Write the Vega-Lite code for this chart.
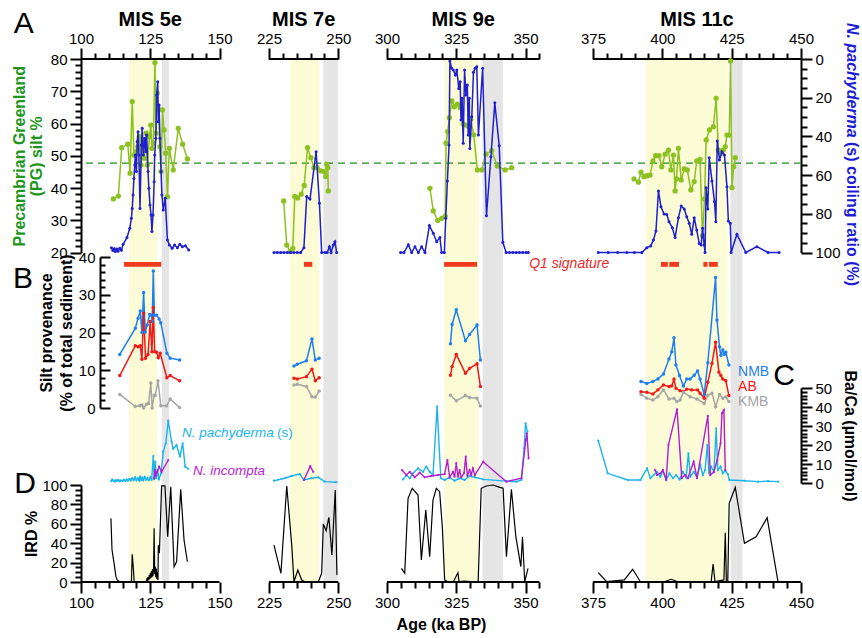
{
"$schema":"https://vega.github.io/schema/vega-lite/v6.json",
"width":720,"height":523,
"autosize":{"type":"none"},
"padding":{"left":81,"top":59,"right":61,"bottom":56},
"background":"white",
"config":{"view":{"stroke":null},"font":"Liberation Sans","axis":{"labelFont":"Liberation Sans","labelFontSize":15,"labelColor":"black","tickColor":"black","domainColor":"black","tickWidth":2,"domainWidth":2,"titleFont":"Liberation Sans","titleFontSize":16,"titleFontWeight":"bold","titleColor":"black","grid":false,"labelFlush":false,"labelOverlap":false,"labelBound":false,"labelPadding":3}},
"datasets":{
"yellow":[{"a0":117.3,"a1":127.4},{"a0":232.6,"a1":243.1},{"a0":320.7,"a1":333.0},{"a0":394.0,"a1":423.6}],
"hatch":[{"a0":129.2,"a1":131.8},{"a0":244.6,"a1":249.8},{"a0":334.5,"a1":341.8},{"a0":424.6,"a1":428.9}],
"cols":[{"a0":100,"a1":150},{"a0":225,"a1":250},{"a0":300,"a1":355},{"a0":375,"a1":450}],
"q1":[{"a0":115.5,"a1":129},{"a0":237.6,"a1":240.6},{"a0":320.6,"a1":332.5},{"a0":399.5,"a1":402.0},{"a0":402.5,"a1":406.0},{"a0":414.8,"a1":416.3},{"a0":416.8,"a1":420.0}],
"green":[
{"c":1,"a":111.7,"v":36.6},{"c":1,"a":113.5,"v":37.5},{"c":1,"a":114.7,"v":52.5},{"c":1,"a":116.9,"v":53.6},{"c":1,"a":117.7,"v":44.6},{"c":1,"a":118.5,"v":66.8},{"c":1,"a":119.1,"v":50.2},{"c":1,"a":119.9,"v":51.3},{"c":1,"a":120.5,"v":52.8},{"c":1,"a":121.1,"v":55.9},{"c":1,"a":121.7,"v":47.1},{"c":1,"a":122.3,"v":54.9},{"c":1,"a":122.9,"v":49.2},{"c":1,"a":123.5,"v":57.0},{"c":1,"a":123.9,"v":47.1},{"c":1,"a":124.7,"v":55.9},{"c":1,"a":125.2,"v":59.5},{"c":1,"a":125.6,"v":52.3},{"c":1,"a":126.1,"v":53.9},{"c":1,"a":126.7,"v":78.9},{"c":1,"a":127.1,"v":57.0},{"c":1,"a":127.5,"v":69.4},{"c":1,"a":127.9,"v":64.7},{"c":1,"a":128.5,"v":52.8},{"c":1,"a":128.9,"v":45.1},{"c":1,"a":129.4,"v":64.2},{"c":1,"a":130.0,"v":58.0},{"c":1,"a":130.6,"v":50.8},{"c":1,"a":131.2,"v":37.3},{"c":1,"a":131.9,"v":52.3},{"c":1,"a":133.3,"v":45.6},{"c":1,"a":135.1,"v":58.5},{"c":1,"a":136.7,"v":53.6},{"c":1,"a":138.4,"v":49.0},
{"c":2,"a":230.3,"v":36.0},{"c":2,"a":231.4,"v":22.3},{"c":2,"a":232.6,"v":20.3},{"c":2,"a":233.6,"v":21.3},{"c":2,"a":234.3,"v":37.4},{"c":2,"a":235.3,"v":36.9},{"c":2,"a":236.6,"v":38.1},{"c":2,"a":237.7,"v":40.8},{"c":2,"a":238.9,"v":52.5},{"c":2,"a":240.1,"v":49.4},{"c":2,"a":241.2,"v":46.3},{"c":2,"a":242.4,"v":46.3},{"c":2,"a":243.7,"v":45.3},{"c":2,"a":244.9,"v":45.1},{"c":2,"a":245.5,"v":43.6},{"c":2,"a":245.8,"v":47.4},{"c":2,"a":246.2,"v":46.3},{"c":2,"a":246.4,"v":39.1},
{"c":3,"a":315.5,"v":39.9},{"c":3,"a":316.7,"v":32.9},{"c":3,"a":318.3,"v":29.9},{"c":3,"a":319.7,"v":30.6},{"c":3,"a":321.0,"v":31.3},{"c":3,"a":321.3,"v":53.9},{"c":3,"a":321.9,"v":57.5},{"c":3,"a":322.5,"v":61.8},{"c":3,"a":323.4,"v":67.0},{"c":3,"a":324.3,"v":65.2},{"c":3,"a":325.4,"v":66.0},{"c":3,"a":326.4,"v":64.9},{"c":3,"a":327.5,"v":59.8},{"c":3,"a":328.5,"v":59.5},{"c":3,"a":329.5,"v":59.0},{"c":3,"a":330.2,"v":61.3},{"c":3,"a":331.3,"v":56.5},{"c":3,"a":332.6,"v":45.6},{"c":3,"a":334.2,"v":45.6},{"c":3,"a":335.7,"v":50.5},{"c":3,"a":337.8,"v":51.6},{"c":3,"a":339.8,"v":46.8},{"c":3,"a":342.6,"v":45.6},{"c":3,"a":345.0,"v":46.3},
{"c":4,"a":389.8,"v":42.8},{"c":4,"a":391.4,"v":41.8},{"c":4,"a":392.3,"v":44.9},{"c":4,"a":393.4,"v":43.5},{"c":4,"a":394.5,"v":43.8},{"c":4,"a":395.6,"v":44.0},{"c":4,"a":396.6,"v":48.4},{"c":4,"a":397.6,"v":50.0},{"c":4,"a":398.8,"v":50.0},{"c":4,"a":399.8,"v":46.6},{"c":4,"a":401.0,"v":50.5},{"c":4,"a":402.2,"v":51.7},{"c":4,"a":403.1,"v":45.6},{"c":4,"a":404.0,"v":50.2},{"c":4,"a":404.6,"v":39.1},{"c":4,"a":405.1,"v":42.8},{"c":4,"a":405.8,"v":52.3},{"c":4,"a":406.8,"v":42.5},{"c":4,"a":407.9,"v":45.9},{"c":4,"a":409.0,"v":45.6},{"c":4,"a":410.3,"v":39.4},{"c":4,"a":411.5,"v":42.0},{"c":4,"a":412.4,"v":48.4},{"c":4,"a":413.6,"v":48.9},{"c":4,"a":414.5,"v":25.2},{"c":4,"a":415.2,"v":36.6},{"c":4,"a":415.8,"v":54.9},{"c":4,"a":417.0,"v":58.0},{"c":4,"a":418.4,"v":59.0},{"c":4,"a":419.4,"v":67.8},{"c":4,"a":420.2,"v":51.8},{"c":4,"a":421.2,"v":50.8},{"c":4,"a":422.0,"v":51.8},{"c":4,"a":422.7,"v":52.8},{"c":4,"a":423.3,"v":56.4},{"c":4,"a":424.1,"v":56.4},{"c":4,"a":424.6,"v":79.4},{"c":4,"a":425.1,"v":40.1},{"c":4,"a":425.7,"v":46.6},{"c":4,"a":426.3,"v":49.4}],
"blue":[
{"c":1,"a":111.0,"v":97.5},{"c":1,"a":111.5,"v":99.0},{"c":1,"a":112.0,"v":98.0},{"c":1,"a":112.4,"v":99.5},{"c":1,"a":112.9,"v":98.2},{"c":1,"a":113.4,"v":99.3},{"c":1,"a":114.0,"v":97.8},{"c":1,"a":114.6,"v":98.8},{"c":1,"a":115.2,"v":95.8},{"c":1,"a":116.6,"v":92.3},{"c":1,"a":117.6,"v":87.5},{"c":1,"a":118.2,"v":82.3},{"c":1,"a":118.5,"v":77.2},{"c":1,"a":118.8,"v":70.3},{"c":1,"a":119.1,"v":61.7},{"c":1,"a":119.4,"v":54.8},{"c":1,"a":119.6,"v":49.6},{"c":1,"a":120.0,"v":58.2},{"c":1,"a":120.3,"v":42.7},{"c":1,"a":120.6,"v":37.6},{"c":1,"a":120.9,"v":49.6},{"c":1,"a":121.3,"v":77.2},{"c":1,"a":121.8,"v":44.4},{"c":1,"a":122.1,"v":35.8},{"c":1,"a":122.5,"v":49.6},{"c":1,"a":123.0,"v":41.0},{"c":1,"a":123.4,"v":47.9},{"c":1,"a":123.7,"v":39.3},{"c":1,"a":124.2,"v":58.2},{"c":1,"a":124.5,"v":66.8},{"c":1,"a":124.9,"v":75.5},{"c":1,"a":125.3,"v":80.6},{"c":1,"a":125.6,"v":89.2},{"c":1,"a":126.0,"v":80.6},{"c":1,"a":126.4,"v":63.4},{"c":1,"a":126.6,"v":49.6},{"c":1,"a":127.0,"v":41.0},{"c":1,"a":127.3,"v":18.6},{"c":1,"a":127.7,"v":11.7},{"c":1,"a":127.9,"v":32.4},{"c":1,"a":128.2,"v":23.8},{"c":1,"a":128.5,"v":41.0},{"c":1,"a":128.9,"v":58.2},{"c":1,"a":129.2,"v":70.3},{"c":1,"a":129.7,"v":78.0},{"c":1,"a":130.4,"v":72.0},{"c":1,"a":131.2,"v":93.5},{"c":1,"a":131.9,"v":96.1},{"c":1,"a":132.9,"v":97.8},{"c":1,"a":133.8,"v":96.1},{"c":1,"a":134.8,"v":97.5},{"c":1,"a":135.7,"v":95.8},{"c":1,"a":136.6,"v":97.0},{"c":1,"a":137.7,"v":96.5},{"c":1,"a":138.9,"v":98.7},
{"c":2,"a":226.8,"v":100},{"c":2,"a":228.0,"v":100},{"c":2,"a":229.2,"v":100},{"c":2,"a":230.4,"v":100},{"c":2,"a":231.6,"v":100},{"c":2,"a":232.8,"v":100},{"c":2,"a":234.0,"v":100},{"c":2,"a":235.2,"v":100},{"c":2,"a":236.4,"v":100},{"c":2,"a":237.6,"v":97.5},{"c":2,"a":238.6,"v":71.1},{"c":2,"a":239.8,"v":72.4},{"c":2,"a":242.0,"v":47.9},{"c":2,"a":243.2,"v":74.6},{"c":2,"a":244.0,"v":100},{"c":2,"a":245.2,"v":100},{"c":2,"a":246.0,"v":100},{"c":2,"a":246.8,"v":97.0},{"c":2,"a":247.4,"v":100},{"c":2,"a":248.2,"v":96.1},{"c":2,"a":248.8,"v":94.4},{"c":2,"a":249.4,"v":100},
{"c":3,"a":304.9,"v":100},{"c":3,"a":306.1,"v":100},{"c":3,"a":307.7,"v":96},{"c":3,"a":308.9,"v":100},{"c":3,"a":310.1,"v":97},{"c":3,"a":311.3,"v":100},{"c":3,"a":312.5,"v":97},{"c":3,"a":313.7,"v":100},{"c":3,"a":315.3,"v":86.1},{"c":3,"a":316.7,"v":90.1},{"c":3,"a":317.9,"v":94.4},{"c":3,"a":319.1,"v":92.3},{"c":3,"a":319.7,"v":100},{"c":3,"a":320.7,"v":100},{"c":3,"a":321.2,"v":82.3},{"c":3,"a":321.8,"v":63.0},{"c":3,"a":322.4,"v":44.4},{"c":3,"a":322.7,"v":1.0},{"c":3,"a":323.3,"v":4.8},{"c":3,"a":323.9,"v":5.7},{"c":3,"a":324.7,"v":8.3},{"c":3,"a":325.2,"v":5.7},{"c":3,"a":325.9,"v":15.2},{"c":3,"a":326.4,"v":11.7},{"c":3,"a":326.7,"v":31.5},{"c":3,"a":327.1,"v":20.3},{"c":3,"a":327.5,"v":43.6},{"c":3,"a":328.0,"v":5.7},{"c":3,"a":328.5,"v":18.6},{"c":3,"a":329.0,"v":13.4},{"c":3,"a":329.3,"v":39.3},{"c":3,"a":329.7,"v":20.3},{"c":3,"a":329.9,"v":46.2},{"c":3,"a":330.6,"v":29.8},{"c":3,"a":331.2,"v":6.9},{"c":3,"a":331.8,"v":4.8},{"c":3,"a":332.4,"v":4.0},{"c":3,"a":333.0,"v":39.3},{"c":3,"a":334.5,"v":4.8},{"c":3,"a":335.9,"v":81.0},{"c":3,"a":337.5,"v":50.5},{"c":3,"a":338.9,"v":22.6},{"c":3,"a":340.5,"v":44.8},{"c":3,"a":341.8,"v":94.7},{"c":3,"a":343.0,"v":100},{"c":3,"a":344.2,"v":100},{"c":3,"a":345.4,"v":100},{"c":3,"a":346.6,"v":100},{"c":3,"a":347.8,"v":100},{"c":3,"a":349.0,"v":100},{"c":3,"a":350.2,"v":100},{"c":3,"a":351.0,"v":100},
{"c":4,"a":376.9,"v":100},{"c":4,"a":380.5,"v":100},{"c":4,"a":383.9,"v":100},{"c":4,"a":387.2,"v":100},{"c":4,"a":389.9,"v":100},{"c":4,"a":392.6,"v":100},{"c":4,"a":394.4,"v":97.5},{"c":4,"a":395.8,"v":96.6},{"c":4,"a":396.8,"v":93.5},{"c":4,"a":397.7,"v":88.9},{"c":4,"a":398.6,"v":68.2},{"c":4,"a":399.5,"v":76.3},{"c":4,"a":400.6,"v":80.1},{"c":4,"a":401.6,"v":80.3},{"c":4,"a":402.4,"v":84.1},{"c":4,"a":403.6,"v":87.2},{"c":4,"a":404.6,"v":92.3},{"c":4,"a":405.8,"v":82.0},{"c":4,"a":406.8,"v":76.0},{"c":4,"a":407.9,"v":77.5},{"c":4,"a":408.8,"v":81.5},{"c":4,"a":409.7,"v":84.9},{"c":4,"a":410.6,"v":90.6},{"c":4,"a":411.5,"v":82.0},{"c":4,"a":412.4,"v":88.4},{"c":4,"a":413.3,"v":95.3},{"c":4,"a":414.0,"v":96.1},{"c":4,"a":414.5,"v":87.5},{"c":4,"a":415.1,"v":96.1},{"c":4,"a":415.4,"v":100},{"c":4,"a":415.8,"v":66.5},{"c":4,"a":416.4,"v":77.5},{"c":4,"a":416.9,"v":51.0},{"c":4,"a":417.9,"v":63.0},{"c":4,"a":418.8,"v":73.7},{"c":4,"a":419.3,"v":84.1},{"c":4,"a":419.8,"v":42.4},{"c":4,"a":420.6,"v":52.2},{"c":4,"a":421.5,"v":47.9},{"c":4,"a":422.4,"v":49.6},{"c":4,"a":423.3,"v":66.0},{"c":4,"a":423.8,"v":83.7},{"c":4,"a":424.5,"v":84.9},{"c":4,"a":424.8,"v":100},{"c":4,"a":426.9,"v":90.6},{"c":4,"a":430.1,"v":100},{"c":4,"a":434.1,"v":97},{"c":4,"a":438.1,"v":100},{"c":4,"a":442.1,"v":100}],
"prov":[
{"c":1,"s":"NMB","a":114.0,"v":14.2},{"c":1,"s":"NMB","a":119.6,"v":21.1},{"c":1,"s":"NMB","a":120.6,"v":23.8},{"c":1,"s":"NMB","a":121.4,"v":25.7},{"c":1,"s":"NMB","a":122.0,"v":20.0},{"c":1,"s":"NMB","a":122.6,"v":30.6},{"c":1,"s":"NMB","a":123.2,"v":20.1},{"c":1,"s":"NMB","a":123.9,"v":22.0},{"c":1,"s":"NMB","a":124.8,"v":24.8},{"c":1,"s":"NMB","a":125.4,"v":24.6},{"c":1,"s":"NMB","a":125.7,"v":22.9},{"c":1,"s":"NMB","a":126.1,"v":36.3},{"c":1,"s":"NMB","a":126.5,"v":24.6},{"c":1,"s":"NMB","a":127.3,"v":24.6},{"c":1,"s":"NMB","a":128.2,"v":23.6},{"c":1,"s":"NMB","a":128.8,"v":22.6},{"c":1,"s":"NMB","a":131.0,"v":14.5},{"c":1,"s":"NMB","a":132.2,"v":13.2},{"c":1,"s":"NMB","a":135.6,"v":12.7},
{"c":1,"s":"AB","a":114.0,"v":8.6},{"c":1,"s":"AB","a":119.6,"v":16.5},{"c":1,"s":"AB","a":120.6,"v":16.2},{"c":1,"s":"AB","a":121.4,"v":16.5},{"c":1,"s":"AB","a":122.0,"v":12.9},{"c":1,"s":"AB","a":122.6,"v":25.1},{"c":1,"s":"AB","a":123.3,"v":13.2},{"c":1,"s":"AB","a":124.2,"v":14.2},{"c":1,"s":"AB","a":125.0,"v":22.9},{"c":1,"s":"AB","a":125.6,"v":14.9},{"c":1,"s":"AB","a":126.1,"v":26.6},{"c":1,"s":"AB","a":126.6,"v":14.9},{"c":1,"s":"AB","a":127.3,"v":14.8},{"c":1,"s":"AB","a":127.9,"v":13.3},{"c":1,"s":"AB","a":128.6,"v":14.5},{"c":1,"s":"AB","a":131.0,"v":8.0},{"c":1,"s":"AB","a":132.2,"v":8.6},{"c":1,"s":"AB","a":135.6,"v":7.2},
{"c":1,"s":"KMB","a":114.0,"v":3.6},{"c":1,"s":"KMB","a":119.6,"v":0.4},{"c":1,"s":"KMB","a":121.2,"v":0.6},{"c":1,"s":"KMB","a":122.0,"v":0.8},{"c":1,"s":"KMB","a":122.6,"v":0.0},{"c":1,"s":"KMB","a":123.6,"v":1.0},{"c":1,"s":"KMB","a":124.4,"v":1.2},{"c":1,"s":"KMB","a":125.2,"v":6.6},{"c":1,"s":"KMB","a":125.7,"v":0.0},{"c":1,"s":"KMB","a":126.4,"v":3.4},{"c":1,"s":"KMB","a":126.8,"v":3.3},{"c":1,"s":"KMB","a":127.8,"v":7.2},{"c":1,"s":"KMB","a":128.8,"v":0.6},{"c":1,"s":"KMB","a":130.9,"v":0.6},{"c":1,"s":"KMB","a":132.2,"v":2.4},{"c":1,"s":"KMB","a":135.6,"v":0.1},
{"c":2,"s":"NMB","a":234.0,"v":11.1},{"c":2,"s":"NMB","a":235.2,"v":11.6},{"c":2,"s":"NMB","a":238.5,"v":12.5},{"c":2,"s":"NMB","a":240.5,"v":18.3},{"c":2,"s":"NMB","a":241.7,"v":12.7},{"c":2,"s":"NMB","a":243.1,"v":13.2},
{"c":2,"s":"AB","a":234.0,"v":7.9},{"c":2,"s":"AB","a":235.2,"v":7.7},{"c":2,"s":"AB","a":238.5,"v":8.3},{"c":2,"s":"AB","a":240.5,"v":10.3},{"c":2,"s":"AB","a":241.7,"v":7.2},{"c":2,"s":"AB","a":243.1,"v":8.0},
{"c":2,"s":"KMB","a":234.0,"v":6.1},{"c":2,"s":"KMB","a":235.2,"v":6.3},{"c":2,"s":"KMB","a":238.5,"v":5.7},{"c":2,"s":"KMB","a":240.5,"v":3.0},{"c":2,"s":"KMB","a":241.7,"v":2.9},{"c":2,"s":"KMB","a":243.1,"v":4.5},
{"c":3,"s":"NMB","a":322.9,"v":17.0},{"c":3,"s":"NMB","a":323.5,"v":22.2},{"c":3,"s":"NMB","a":325.0,"v":26.0},{"c":3,"s":"NMB","a":328.3,"v":17.8},{"c":3,"s":"NMB","a":329.8,"v":19.5},{"c":3,"s":"NMB","a":332.5,"v":22.0},{"c":3,"s":"NMB","a":333.7,"v":12.7},
{"c":3,"s":"AB","a":322.9,"v":8.7},{"c":3,"s":"AB","a":323.5,"v":11.0},{"c":3,"s":"AB","a":325.0,"v":14.2},{"c":3,"s":"AB","a":328.3,"v":9.2},{"c":3,"s":"AB","a":329.8,"v":10.5},{"c":3,"s":"AB","a":332.5,"v":11.7},{"c":3,"s":"AB","a":333.7,"v":5.7},
{"c":3,"s":"KMB","a":322.9,"v":3.4},{"c":3,"s":"KMB","a":325.0,"v":1.9},{"c":3,"s":"KMB","a":328.3,"v":3.3},{"c":3,"s":"KMB","a":329.8,"v":2.8},{"c":3,"s":"KMB","a":332.5,"v":2.6},{"c":3,"s":"KMB","a":333.7,"v":0.5},
{"c":4,"s":"NMB","a":392.3,"v":7.0},{"c":4,"s":"NMB","a":394.4,"v":6.5},{"c":4,"s":"NMB","a":396.6,"v":7.0},{"c":4,"s":"NMB","a":398.4,"v":7.7},{"c":4,"s":"NMB","a":400.4,"v":9.0},{"c":4,"s":"NMB","a":402.4,"v":13.0},{"c":4,"s":"NMB","a":403.4,"v":14.9},{"c":4,"s":"NMB","a":404.2,"v":18.6},{"c":4,"s":"NMB","a":404.9,"v":11.4},{"c":4,"s":"NMB","a":406.2,"v":8.6},{"c":4,"s":"NMB","a":407.6,"v":5.8},{"c":4,"s":"NMB","a":408.8,"v":7.7},{"c":4,"s":"NMB","a":410.0,"v":7.7},{"c":4,"s":"NMB","a":411.5,"v":8.7},{"c":4,"s":"NMB","a":412.7,"v":9.8},{"c":4,"s":"NMB","a":413.6,"v":7.7},{"c":4,"s":"NMB","a":415.1,"v":3.6},{"c":4,"s":"NMB","a":416.4,"v":12.0},{"c":4,"s":"NMB","a":419.2,"v":34.6},{"c":4,"s":"NMB","a":419.7,"v":23.3},{"c":4,"s":"NMB","a":420.6,"v":16.2},{"c":4,"s":"NMB","a":421.1,"v":14.0},{"c":4,"s":"NMB","a":421.8,"v":15.4},{"c":4,"s":"NMB","a":422.3,"v":14.2},{"c":4,"s":"NMB","a":422.9,"v":14.8},{"c":4,"s":"NMB","a":424.0,"v":11.4},
{"c":4,"s":"AB","a":392.3,"v":4.3},{"c":4,"s":"AB","a":394.4,"v":4.2},{"c":4,"s":"AB","a":396.6,"v":3.7},{"c":4,"s":"AB","a":398.4,"v":4.8},{"c":4,"s":"AB","a":400.4,"v":6.1},{"c":4,"s":"AB","a":402.4,"v":5.7},{"c":4,"s":"AB","a":403.4,"v":5.8},{"c":4,"s":"AB","a":404.2,"v":7.6},{"c":4,"s":"AB","a":404.9,"v":5.2},{"c":4,"s":"AB","a":406.4,"v":4.6},{"c":4,"s":"AB","a":407.6,"v":4.3},{"c":4,"s":"AB","a":408.8,"v":5.0},{"c":4,"s":"AB","a":410.6,"v":4.8},{"c":4,"s":"AB","a":412.7,"v":4.8},{"c":4,"s":"AB","a":413.6,"v":3.9},{"c":4,"s":"AB","a":415.1,"v":2.6},{"c":4,"s":"AB","a":416.4,"v":6.8},{"c":4,"s":"AB","a":417.9,"v":11.8},{"c":4,"s":"AB","a":419.2,"v":17.4},{"c":4,"s":"AB","a":420.4,"v":9.5},{"c":4,"s":"AB","a":421.1,"v":8.6},{"c":4,"s":"AB","a":421.8,"v":7.7},{"c":4,"s":"AB","a":422.9,"v":7.2},{"c":4,"s":"AB","a":424.0,"v":3.3},
{"c":4,"s":"KMB","a":392.3,"v":3.6},{"c":4,"s":"KMB","a":394.4,"v":2.6},{"c":4,"s":"KMB","a":396.6,"v":2.1},{"c":4,"s":"KMB","a":398.4,"v":3.0},{"c":4,"s":"KMB","a":400.4,"v":4.8},{"c":4,"s":"KMB","a":402.4,"v":2.4},{"c":4,"s":"KMB","a":404.2,"v":2.6},{"c":4,"s":"KMB","a":405.2,"v":1.7},{"c":4,"s":"KMB","a":406.4,"v":2.1},{"c":4,"s":"KMB","a":407.6,"v":4.2},{"c":4,"s":"KMB","a":410.0,"v":3.0},{"c":4,"s":"KMB","a":412.5,"v":2.4},{"c":4,"s":"KMB","a":415.1,"v":1.2},{"c":4,"s":"KMB","a":416.4,"v":3.4},{"c":4,"s":"KMB","a":417.9,"v":3.9},{"c":4,"s":"KMB","a":419.2,"v":0.3},{"c":4,"s":"KMB","a":420.6,"v":3.6},{"c":4,"s":"KMB","a":421.8,"v":2.6},{"c":4,"s":"KMB","a":422.9,"v":3.0},{"c":4,"s":"KMB","a":424.0,"v":1.7}],
"cyan":[
{"c":1,"a":110.9,"v":1.0},{"c":1,"a":111.3,"v":1.8},{"c":1,"a":111.7,"v":1.2},{"c":1,"a":112.1,"v":0.8},{"c":1,"a":112.6,"v":1.5},{"c":1,"a":113.0,"v":1.0},{"c":1,"a":113.5,"v":1.6},{"c":1,"a":114.0,"v":0.9},{"c":1,"a":114.5,"v":1.4},{"c":1,"a":115.0,"v":1.0},{"c":1,"a":115.5,"v":1.7},{"c":1,"a":116.0,"v":1.1},{"c":1,"a":116.5,"v":1.9},{"c":1,"a":117.0,"v":1.2},{"c":1,"a":117.5,"v":2.2},{"c":1,"a":118.0,"v":1.3},{"c":1,"a":118.5,"v":2.5},{"c":1,"a":119.0,"v":1.5},{"c":1,"a":119.5,"v":3.0},{"c":1,"a":120.0,"v":1.4},{"c":1,"a":120.5,"v":2.6},{"c":1,"a":121.0,"v":1.3},{"c":1,"a":121.3,"v":3.5},{"c":1,"a":121.7,"v":1.6},{"c":1,"a":122.1,"v":2.8},{"c":1,"a":122.5,"v":1.5},{"c":1,"a":123.0,"v":3.2},{"c":1,"a":123.5,"v":1.7},{"c":1,"a":124.0,"v":2.6},{"c":1,"a":124.5,"v":1.5},{"c":1,"a":125.0,"v":3.0},{"c":1,"a":125.5,"v":1.8},{"c":1,"a":126.1,"v":14.2},{"c":1,"a":126.4,"v":2.0},{"c":1,"a":126.8,"v":11.2},{"c":1,"a":127.2,"v":2.5},{"c":1,"a":127.7,"v":6.8},{"c":1,"a":128.1,"v":1.8},{"c":1,"a":128.9,"v":5.1},{"c":1,"a":129.7,"v":16.5},{"c":1,"a":130.6,"v":20.9},{"c":1,"a":131.5,"v":32.8},{"c":1,"a":132.7,"v":21.7},{"c":1,"a":133.3,"v":18.0},{"c":1,"a":134.5,"v":20.0},{"c":1,"a":135.7,"v":13.9},{"c":1,"a":136.7,"v":20.9},{"c":1,"a":137.6,"v":8.6},{"c":1,"a":138.7,"v":7.5},
{"c":2,"a":226.8,"v":1.2},{"c":2,"a":230.7,"v":2.5},{"c":2,"a":233.1,"v":3.7},{"c":2,"a":236.1,"v":4.7},{"c":2,"a":237.6,"v":1.6},{"c":2,"a":240.3,"v":2.5},{"c":2,"a":242.7,"v":3.0},{"c":2,"a":245.1,"v":0.7},{"c":2,"a":249.3,"v":0.4},
{"c":3,"a":305.8,"v":1.9},{"c":3,"a":307.0,"v":4.2},{"c":3,"a":308.2,"v":2.5},{"c":3,"a":309.4,"v":5.1},{"c":3,"a":311.2,"v":7.7},{"c":3,"a":313.0,"v":5.9},{"c":3,"a":314.2,"v":8.6},{"c":3,"a":315.4,"v":5.9},{"c":3,"a":316.6,"v":4.2},{"c":3,"a":318.1,"v":40.2},{"c":3,"a":319.4,"v":2.5},{"c":3,"a":320.8,"v":1.6},{"c":3,"a":322.6,"v":3.0},{"c":3,"a":324.4,"v":1.2},{"c":3,"a":326.2,"v":2.5},{"c":3,"a":328.0,"v":1.6},{"c":3,"a":329.8,"v":3.7},{"c":3,"a":331.7,"v":3.0},{"c":3,"a":334.7,"v":1.9},{"c":3,"a":343.1,"v":1.0},{"c":3,"a":346.7,"v":0.7},{"c":3,"a":348.5,"v":1.6},{"c":3,"a":349.5,"v":18.2},{"c":3,"a":350.0,"v":31.4},{"c":3,"a":350.7,"v":27.0},
{"c":4,"a":376.9,"v":22.3},{"c":4,"a":380.3,"v":5.1},{"c":4,"a":387.5,"v":1.6},{"c":4,"a":392.1,"v":1.6},{"c":4,"a":394.5,"v":7.7},{"c":4,"a":395.7,"v":2.5},{"c":4,"a":396.9,"v":4.2},{"c":4,"a":398.1,"v":5.9},{"c":4,"a":399.3,"v":3.3},{"c":4,"a":400.2,"v":6.5},{"c":4,"a":401.4,"v":1.6},{"c":4,"a":402.6,"v":5.1},{"c":4,"a":403.8,"v":2.5},{"c":4,"a":405.0,"v":4.2},{"c":4,"a":406.2,"v":1.9},{"c":4,"a":407.4,"v":5.9},{"c":4,"a":408.6,"v":3.0},{"c":4,"a":409.4,"v":15.6},{"c":4,"a":410.1,"v":3.3},{"c":4,"a":411.3,"v":5.9},{"c":4,"a":412.5,"v":3.0},{"c":4,"a":413.7,"v":9.5},{"c":4,"a":414.6,"v":4.2},{"c":4,"a":415.4,"v":6.8},{"c":4,"a":416.2,"v":20.0},{"c":4,"a":416.8,"v":5.1},{"c":4,"a":417.6,"v":8.6},{"c":4,"a":418.6,"v":5.9},{"c":4,"a":419.4,"v":28.8},{"c":4,"a":420.0,"v":6.8},{"c":4,"a":421.0,"v":8.6},{"c":4,"a":421.8,"v":5.1},{"c":4,"a":422.7,"v":6.5},{"c":4,"a":423.6,"v":4.7},{"c":4,"a":424.2,"v":1.6},{"c":4,"a":429.6,"v":1.2},{"c":4,"a":434.5,"v":0.7},{"c":4,"a":438.1,"v":1.0},{"c":4,"a":441.7,"v":0.7}],
"purple":[
{"c":1,"a":126.4,"v":2.5},{"c":1,"a":126.7,"v":6.8},{"c":1,"a":127.0,"v":4.0},{"c":1,"a":127.5,"v":5.9},{"c":1,"a":128.2,"v":8.6},{"c":1,"a":129.1,"v":5.9},{"c":1,"a":131.5,"v":12.1},
{"c":2,"a":237.6,"v":1.6},{"c":2,"a":239.9,"v":8.9},{"c":2,"a":240.9,"v":5.9},
{"c":3,"a":305.4,"v":6.8},{"c":3,"a":307.0,"v":4.2},{"c":3,"a":308.2,"v":5.9},{"c":3,"a":310.0,"v":3.0},{"c":3,"a":311.8,"v":5.4},{"c":3,"a":313.6,"v":3.0},{"c":3,"a":316.0,"v":3.7},{"c":3,"a":318.4,"v":4.2},{"c":3,"a":320.8,"v":4.7},{"c":3,"a":321.8,"v":12.1},{"c":3,"a":322.6,"v":3.0},{"c":3,"a":323.8,"v":5.9},{"c":3,"a":324.4,"v":3.3},{"c":3,"a":325.0,"v":10.4},{"c":3,"a":325.6,"v":3.3},{"c":3,"a":326.2,"v":6.8},{"c":3,"a":326.8,"v":3.0},{"c":3,"a":327.8,"v":5.1},{"c":3,"a":328.4,"v":13.9},{"c":3,"a":329.0,"v":3.7},{"c":3,"a":329.8,"v":6.8},{"c":3,"a":330.4,"v":4.2},{"c":3,"a":331.0,"v":7.7},{"c":3,"a":331.7,"v":4.2},{"c":3,"a":334.7,"v":11.2},{"c":3,"a":343.1,"v":0.7},{"c":3,"a":348.5,"v":2.5},{"c":3,"a":350.1,"v":22.6},{"c":3,"a":350.5,"v":26.1},{"c":3,"a":351.1,"v":13.0},
{"c":4,"a":397.4,"v":6.8},{"c":4,"a":398.1,"v":4.2},{"c":4,"a":399.3,"v":5.1},{"c":4,"a":400.2,"v":6.8},{"c":4,"a":401.4,"v":1.6},{"c":4,"a":402.2,"v":20.0},{"c":4,"a":405.3,"v":38.8},{"c":4,"a":407.0,"v":2.5},{"c":4,"a":408.2,"v":4.2},{"c":4,"a":409.2,"v":2.5},{"c":4,"a":411.3,"v":11.2},{"c":4,"a":412.5,"v":2.5},{"c":4,"a":416.4,"v":35.3},{"c":4,"a":417.3,"v":4.2},{"c":4,"a":418.6,"v":5.9},{"c":4,"a":419.8,"v":12.1},{"c":4,"a":421.0,"v":20.9},{"c":4,"a":421.5,"v":36.7},{"c":4,"a":422.2,"v":38.4},{"c":4,"a":422.7,"v":6.8}],
"ird":[
{"c":1,"a":110.8,"v":65.6},{"c":1,"a":111.2,"v":33.0},{"c":1,"a":112.0,"v":18.2},{"c":1,"a":112.6,"v":5.5},{"c":1,"a":113.1,"v":2.1},{"c":1,"a":113.9,"v":0.3},{"c":1,"a":115.0,"v":0.0},{"c":1,"a":117.0,"v":0.0},{"c":1,"a":118.2,"v":0.0},{"c":1,"a":118.5,"v":28.6},{"c":1,"a":118.9,"v":14.0},{"c":1,"a":119.2,"v":0.0},{"c":1,"a":121.0,"v":0.0},{"c":1,"a":123.0,"v":0.5},{"c":1,"a":123.5,"v":0.5},{"c":1,"a":123.8,"v":3},{"c":1,"a":124.0,"v":1},{"c":1,"a":124.2,"v":5},{"c":1,"a":124.4,"v":2},{"c":1,"a":124.6,"v":7},{"c":1,"a":124.8,"v":3},{"c":1,"a":125.0,"v":9},{"c":1,"a":125.2,"v":4},{"c":1,"a":125.4,"v":11},{"c":1,"a":125.6,"v":5},{"c":1,"a":125.8,"v":13},{"c":1,"a":126.0,"v":6},{"c":1,"a":126.2,"v":15},{"c":1,"a":126.4,"v":55.4},{"c":1,"a":126.6,"v":8},{"c":1,"a":126.8,"v":16},{"c":1,"a":127.0,"v":5},{"c":1,"a":127.2,"v":14},{"c":1,"a":127.4,"v":3},{"c":1,"a":127.6,"v":10},{"c":1,"a":127.8,"v":2},{"c":1,"a":127.9,"v":38},{"c":1,"a":128.3,"v":29.6},{"c":1,"a":129.1,"v":99},{"c":1,"a":130.3,"v":99},{"c":1,"a":131.3,"v":46.7},{"c":1,"a":132.4,"v":98.2},{"c":1,"a":133.6,"v":15.8},{"c":1,"a":134.5,"v":20.9},{"c":1,"a":136.0,"v":95.6},{"c":1,"a":137.2,"v":43.3},{"c":1,"a":138.4,"v":20.9},
{"c":2,"a":226.8,"v":38.1},{"c":2,"a":229.3,"v":9.0},{"c":2,"a":231.4,"v":99.0},{"c":2,"a":233.2,"v":38.0},{"c":2,"a":234.0,"v":0.3},{"c":2,"a":235.4,"v":12.4},{"c":2,"a":236.8,"v":2.0},{"c":2,"a":238.0,"v":0.3},{"c":2,"a":240.0,"v":0.3},{"c":2,"a":242.8,"v":0.3},{"c":2,"a":244.0,"v":9.0},{"c":2,"a":244.6,"v":59.8},{"c":2,"a":245.6,"v":52.9},{"c":2,"a":246.6,"v":66.7},{"c":2,"a":247.7,"v":27.8},{"c":2,"a":248.9,"v":94.8},{"c":2,"a":249.5,"v":7.2},
{"c":3,"a":305.2,"v":14.1},{"c":3,"a":306.4,"v":9.0},{"c":3,"a":307.6,"v":86.3},{"c":3,"a":309.1,"v":96.6},{"c":3,"a":311.2,"v":89.7},{"c":3,"a":312.4,"v":22.7},{"c":3,"a":314.0,"v":74.2},{"c":3,"a":315.4,"v":26.1},{"c":3,"a":316.6,"v":84.5},{"c":3,"a":317.8,"v":96.6},{"c":3,"a":319.0,"v":93.1},{"c":3,"a":320.0,"v":55.4},{"c":3,"a":320.8,"v":2.1},{"c":3,"a":322.0,"v":0.3},{"c":3,"a":324.0,"v":0.5},{"c":3,"a":325.6,"v":9.6},{"c":3,"a":326.0,"v":0.3},{"c":3,"a":328.0,"v":1.0},{"c":3,"a":330.0,"v":0.5},{"c":3,"a":332.9,"v":0.3},{"c":3,"a":334.0,"v":96.6},{"c":3,"a":335.8,"v":99.0},{"c":3,"a":338.3,"v":100},{"c":3,"a":340.7,"v":97.6},{"c":3,"a":341.9,"v":96.6},{"c":3,"a":343.1,"v":26.1},{"c":3,"a":344.9,"v":95.6},{"c":3,"a":346.5,"v":46.7},{"c":3,"a":348.3,"v":15.8},{"c":3,"a":348.9,"v":46.7},{"c":3,"a":349.7,"v":0.3},{"c":3,"a":350.9,"v":14.1},
{"c":4,"a":376.9,"v":9.6},{"c":4,"a":379.9,"v":0.3},{"c":4,"a":386.3,"v":2.1},{"c":4,"a":389.3,"v":13.1},{"c":4,"a":392.1,"v":0.3},{"c":4,"a":400.7,"v":0.3},{"c":4,"a":403.2,"v":2.8},{"c":4,"a":405.6,"v":0.3},{"c":4,"a":417.6,"v":0.3},{"c":4,"a":418.3,"v":18.6},{"c":4,"a":419.0,"v":0.3},{"c":4,"a":422.2,"v":2.1},{"c":4,"a":422.7,"v":50.8},{"c":4,"a":423.1,"v":0.3},{"c":4,"a":423.6,"v":0.3},{"c":4,"a":424.1,"v":81.1},{"c":4,"a":426.3,"v":97.6},{"c":4,"a":429.6,"v":39.9},{"c":4,"a":433.8,"v":46.7},{"c":4,"a":437.8,"v":66.3},{"c":4,"a":441.7,"v":0.3}]
},
"resolve":{"scale":{"x":"shared","y":"independent"},"axis":{"x":"independent","y":"independent"}},
"layer":[
{"data":{"name":"yellow"},"mark":{"type":"rect","color":"#fbfbd5"},
 "encoding":{"x":{"field":"a0","type":"quantitative","scale":{"type":"linear","domain":[100,150,225,250,300,355,375,450],"range":[0,138.5,188,257.3,306,458.4,512,720],"nice":false,"zero":false},"axis":null},"x2":{"field":"a1"}}},
{"data":{"name":"hatch"},"mark":{"type":"rect","color":"#e5e5e5"},
 "encoding":{"x":{"field":"a0","type":"quantitative","scale":{"type":"linear","domain":[100,150,225,250,300,355,375,450],"range":[0,138.5,188,257.3,306,458.4,512,720],"nice":false,"zero":false},"axis":null},"x2":{"field":"a1"}}},
{"data":{"values":[{}]},"mark":{"type":"rule","color":"#1e8c1e","strokeDash":[7,5],"strokeWidth":1.3},
 "encoding":{"y":{"datum":47.7,"scale":{"domain":[20,80],"range":[193.5,0],"nice":false,"zero":false},"axis":null}}},
{"data":{"name":"cols"},"mark":{"type":"rule","color":"black","strokeWidth":2},
 "encoding":{"x":{"field":"a0","type":"quantitative","scale":{"type":"linear","domain":[100,150,225,250,300,355,375,450],"range":[0,138.5,188,257.3,306,458.4,512,720],"nice":false,"zero":false},
   "axis":{"orient":"top","domain":false,"title":null,"values":[100,105,110,115,120,125,130,135,140,145,150,225,230,235,240,245,250,300,305,310,315,320,325,330,335,340,345,350,355,375,380,385,390,395,400,405,410,415,420,425,430,435,440,445,450],"labelExpr":"datum.value % 25 === 0 ? datum.label : ''","tickSize":{"condition":{"test":"datum.value % 25 === 0","value":11},"value":6},"labelPadding":2}},
  "x2":{"field":"a1"},
  "y":{"datum":80,"scale":{"domain":[20,80],"range":[193.5,0],"nice":false,"zero":false},"axis":null}}},
{"data":{"name":"cols"},"mark":{"type":"rule","color":"black","strokeWidth":2},
 "encoding":{"x":{"field":"a0","type":"quantitative","scale":{"type":"linear","domain":[100,150,225,250,300,355,375,450],"range":[0,138.5,188,257.3,306,458.4,512,720],"nice":false,"zero":false},
   "axis":{"orient":"bottom","domain":false,"title":"Age (ka BP)","titlePadding":6,"values":[100,105,110,115,120,125,130,135,140,145,150,225,230,235,240,245,250,300,305,310,315,320,325,330,335,340,345,350,355,375,380,385,390,395,400,405,410,415,420,425,430,435,440,445,450],"labelExpr":"datum.value % 25 === 0 ? datum.label : ''","tickSize":{"condition":{"test":"datum.value % 25 === 0","value":11},"value":6},"labelPadding":2}},
  "x2":{"field":"a1"},
  "y":{"datum":0,"scale":{"domain":[0,100],"range":[523,426],"nice":false,"zero":false},"axis":null}}},
{"data":{"name":"q1"},"mark":{"type":"rect","color":"#f23a1e"},
 "encoding":{"x":{"field":"a0","type":"quantitative","scale":{"type":"linear","domain":[100,150,225,250,300,355,375,450],"range":[0,138.5,188,257.3,306,458.4,512,720],"nice":false,"zero":false},"axis":null},"x2":{"field":"a1"},
  "y":{"datum":38.7,"scale":{"domain":[0,40],"range":[349,198],"nice":false,"zero":false},"axis":null},"y2":{"datum":37.4}}},
{"data":{"name":"green"},"mark":{"type":"line","color":"#8dc021","strokeWidth":1.5,"point":{"filled":true,"size":28,"color":"#8dc021"}},
 "encoding":{"x":{"field":"a","type":"quantitative","scale":{"type":"linear","domain":[100,150,225,250,300,355,375,450],"range":[0,138.5,188,257.3,306,458.4,512,720],"nice":false,"zero":false},"axis":null},
  "y":{"field":"v","type":"quantitative","scale":{"domain":[20,80],"range":[193.5,0],"nice":false,"zero":false},
   "axis":{"orient":"left","values":[20,22,24,26,28,30,32,34,36,38,40,42,44,46,48,50,52,54,56,58,60,62,64,66,68,70,72,74,76,78,80],"labelExpr":"datum.value % 10 === 0 ? datum.label : ''","tickSize":{"condition":{"test":"datum.value % 10 === 0","value":11},"value":6},"title":["Precambrian Greenland","(PG) silt %"],"titleColor":"#1e961e","titleLineHeight":17,"titlePadding":6}},
  "detail":{"field":"c","type":"nominal"}}},
{"data":{"name":"blue"},"mark":{"type":"line","color":"#1f1fcf","strokeWidth":1.5,"point":{"filled":true,"size":9,"color":"#1f1fcf"}},
 "encoding":{"x":{"field":"a","type":"quantitative","scale":{"type":"linear","domain":[100,150,225,250,300,355,375,450],"range":[0,138.5,188,257.3,306,458.4,512,720],"nice":false,"zero":false},"axis":null},
  "y":{"field":"v","type":"quantitative","scale":{"domain":[0,100],"range":[0,193.5],"nice":false,"zero":false},
   "axis":{"orient":"right","values":[0,5,10,15,20,25,30,35,40,45,50,55,60,65,70,75,80,85,90,95,100],"labelExpr":"datum.value % 20 === 0 ? datum.label : ''","tickSize":{"condition":{"test":"datum.value % 20 === 0","value":11},"value":6},"title":null}},
  "detail":{"field":"c","type":"nominal"}}},
{"data":{"name":"prov"},"mark":{"type":"line","strokeWidth":1.5,"point":{"filled":true,"size":12}},
 "encoding":{"x":{"field":"a","type":"quantitative","scale":{"type":"linear","domain":[100,150,225,250,300,355,375,450],"range":[0,138.5,188,257.3,306,458.4,512,720],"nice":false,"zero":false},"axis":null},
  "y":{"field":"v","type":"quantitative","scale":{"domain":[0,40],"range":[349,198],"nice":false,"zero":false},
   "axis":{"orient":"left","offset":-19,"values":[0,2,4,6,8,10,12,14,16,18,20,22,24,26,28,30,32,34,36,38,40],"labelExpr":"datum.value % 10 === 0 ? datum.label : ''","tickSize":{"condition":{"test":"datum.value % 10 === 0","value":-10},"value":-5},"labelPadding":15,"title":["Silt provenance","(% of total sediment)"],"titleLineHeight":20,"titlePadding":4}},
  "color":{"field":"s","type":"nominal","scale":{"domain":["NMB","AB","KMB"],"range":["#1e7ff0","#f01818","#a6a6a6"]},"legend":null},
  "detail":{"field":"c","type":"nominal"}}},
{"data":{"name":"cyan"},"mark":{"type":"line","color":"#1ab4ec","strokeWidth":1.4,"point":{"filled":true,"size":5,"color":"#1ab4ec"}},
 "encoding":{"x":{"field":"a","type":"quantitative","scale":{"type":"linear","domain":[100,150,225,250,300,355,375,450],"range":[0,138.5,188,257.3,306,458.4,512,720],"nice":false,"zero":false},"axis":null},
  "y":{"field":"v","type":"quantitative","scale":{"domain":[0,50],"range":[424,329],"nice":false,"zero":false},
   "axis":{"orient":"right","values":[0,2,4,6,8,10,12,14,16,18,20,22,24,26,28,30,32,34,36,38,40,42,44,46,48,50],"labelExpr":"datum.value % 10 === 0 ? datum.label : ''","tickSize":{"condition":{"test":"datum.value % 10 === 0","value":11},"value":6},"title":"Ba/Ca (µmol/mol)","titlePadding":10}},
  "detail":{"field":"c","type":"nominal"}}},
{"data":{"name":"purple"},"mark":{"type":"line","color":"#b41ed2","strokeWidth":1.4,"point":{"filled":true,"size":5,"color":"#b41ed2"}},
 "encoding":{"x":{"field":"a","type":"quantitative","scale":{"type":"linear","domain":[100,150,225,250,300,355,375,450],"range":[0,138.5,188,257.3,306,458.4,512,720],"nice":false,"zero":false},"axis":null},
  "y":{"field":"v","type":"quantitative","scale":{"domain":[0,50],"range":[424,329],"nice":false,"zero":false},"axis":null},
  "detail":{"field":"c","type":"nominal"}}},
{"data":{"name":"ird"},"mark":{"type":"line","color":"black","strokeWidth":1.2},
 "encoding":{"x":{"field":"a","type":"quantitative","scale":{"type":"linear","domain":[100,150,225,250,300,355,375,450],"range":[0,138.5,188,257.3,306,458.4,512,720],"nice":false,"zero":false},"axis":null},
  "y":{"field":"v","type":"quantitative","scale":{"domain":[0,100],"range":[523,426],"nice":false,"zero":false},
   "axis":{"orient":"left","values":[0,5,10,15,20,25,30,35,40,45,50,55,60,65,70,75,80,85,90,95,100],"labelExpr":"datum.value % 20 === 0 ? datum.label : ''","tickSize":{"condition":{"test":"datum.value % 20 === 0","value":11},"value":6},"title":"IRD %","titlePadding":2}},
  "detail":{"field":"c","type":"nominal"}}},
{"data":{"values":[{"t":"MIS 5e","age":125},{"t":"MIS 7e","age":237.5},{"t":"MIS 9e","age":327.5},{"t":"MIS 11c","age":412.5}]},
 "mark":{"type":"text","fontSize":20,"fontWeight":"bold","align":"center","baseline":"alphabetic","color":"black"},
 "encoding":{"x":{"field":"age","type":"quantitative","scale":{"type":"linear","domain":[100,150,225,250,300,355,375,450],"range":[0,138.5,188,257.3,306,458.4,512,720],"nice":false,"zero":false},"axis":null},
  "y":{"datum":90.3,"scale":{"domain":[20,80],"range":[193.5,0],"nice":false,"zero":false},"axis":null},"text":{"field":"t"}}},
{"data":{"values":[{"t":"A"}]},"mark":{"type":"text","fontSize":30,"align":"center","baseline":"alphabetic","color":"black"},
 "encoding":{"x":{"datum":79.3,"scale":{"type":"linear","domain":[100,150,225,250,300,355,375,450],"range":[0,138.5,188,257.3,306,458.4,512,720],"nice":false,"zero":false},"axis":null},
  "y":{"datum":88.0,"scale":{"domain":[20,80],"range":[193.5,0],"nice":false,"zero":false},"axis":null},"text":{"field":"t"}}},
{"data":{"values":[{"t":"B"}]},"mark":{"type":"text","fontSize":30,"align":"center","baseline":"alphabetic","color":"black"},
 "encoding":{"x":{"datum":79.1,"scale":{"type":"linear","domain":[100,150,225,250,300,355,375,450],"range":[0,138.5,188,257.3,306,458.4,512,720],"nice":false,"zero":false},"axis":null},
  "y":{"datum":31.7,"scale":{"domain":[0,40],"range":[349,198],"nice":false,"zero":false},"axis":null},"text":{"field":"t"}}},
{"data":{"values":[{"t":"C"}]},"mark":{"type":"text","fontSize":30,"align":"center","baseline":"alphabetic","color":"black"},
 "encoding":{"x":{"datum":443.9,"scale":{"type":"linear","domain":[100,150,225,250,300,355,375,450],"range":[0,138.5,188,257.3,306,458.4,512,720],"nice":false,"zero":false},"axis":null},
  "y":{"datum":51.6,"scale":{"domain":[0,50],"range":[424,329],"nice":false,"zero":false},"axis":null},"text":{"field":"t"}}},
{"data":{"values":[{"t":"D"}]},"mark":{"type":"text","fontSize":30,"align":"center","baseline":"alphabetic","color":"black"},
 "encoding":{"x":{"datum":79.8,"scale":{"type":"linear","domain":[100,150,225,250,300,355,375,450],"range":[0,138.5,188,257.3,306,458.4,512,720],"nice":false,"zero":false},"axis":null},
  "y":{"datum":91.8,"scale":{"domain":[0,100],"range":[523,426],"nice":false,"zero":false},"axis":null},"text":{"field":"t"}}},
{"data":{"values":[{"t":"Q1 signature"}]},"mark":{"type":"text","fontSize":14,"fontStyle":"italic","align":"left","baseline":"alphabetic","color":"#f02828"},
 "encoding":{"x":{"datum":351.3,"scale":{"type":"linear","domain":[100,150,225,250,300,355,375,450],"range":[0,138.5,188,257.3,306,458.4,512,720],"nice":false,"zero":false},"axis":null},
  "y":{"datum":37.1,"scale":{"domain":[0,40],"range":[349,198],"nice":false,"zero":false},"axis":null},"text":{"field":"t"}}},
{"data":{"values":[{"t":"NMB"}]},"mark":{"type":"text","fontSize":14,"align":"left","baseline":"alphabetic","color":"#1e7ff0"},
 "encoding":{"x":{"datum":427.3,"scale":{"type":"linear","domain":[100,150,225,250,300,355,375,450],"range":[0,138.5,188,257.3,306,458.4,512,720],"nice":false,"zero":false},"axis":null},
  "y":{"datum":8.6,"scale":{"domain":[0,40],"range":[349,198],"nice":false,"zero":false},"axis":null},"text":{"field":"t"}}},
{"data":{"values":[{"t":"AB"}]},"mark":{"type":"text","fontSize":14,"align":"left","baseline":"alphabetic","color":"#f01818"},
 "encoding":{"x":{"datum":427.3,"scale":{"type":"linear","domain":[100,150,225,250,300,355,375,450],"range":[0,138.5,188,257.3,306,458.4,512,720],"nice":false,"zero":false},"axis":null},
  "y":{"datum":4.6,"scale":{"domain":[0,40],"range":[349,198],"nice":false,"zero":false},"axis":null},"text":{"field":"t"}}},
{"data":{"values":[{"t":"KMB"}]},"mark":{"type":"text","fontSize":14,"align":"left","baseline":"alphabetic","color":"#a6a6a6"},
 "encoding":{"x":{"datum":427.3,"scale":{"type":"linear","domain":[100,150,225,250,300,355,375,450],"range":[0,138.5,188,257.3,306,458.4,512,720],"nice":false,"zero":false},"axis":null},
  "y":{"datum":0.5,"scale":{"domain":[0,40],"range":[349,198],"nice":false,"zero":false},"axis":null},"text":{"field":"t"}}},
{"data":{"values":[{"t":"N. pachyderma"}]},"mark":{"type":"text","fontSize":13.5,"fontStyle":"italic","align":"left","baseline":"alphabetic","color":"#1ab4ec"},
 "encoding":{"x":{"datum":136.5,"scale":{"type":"linear","domain":[100,150,225,250,300,355,375,450],"range":[0,138.5,188,257.3,306,458.4,512,720],"nice":false,"zero":false},"axis":null},
  "y":{"datum":24.2,"scale":{"domain":[0,50],"range":[424,329],"nice":false,"zero":false},"axis":null},"text":{"field":"t"}}},
{"data":{"values":[{"t":"(s)"}]},"mark":{"type":"text","fontSize":13.5,"align":"left","baseline":"alphabetic","color":"#1ab4ec","dx":95},
 "encoding":{"x":{"datum":136.5,"scale":{"type":"linear","domain":[100,150,225,250,300,355,375,450],"range":[0,138.5,188,257.3,306,458.4,512,720],"nice":false,"zero":false},"axis":null},
  "y":{"datum":24.2,"scale":{"domain":[0,50],"range":[424,329],"nice":false,"zero":false},"axis":null},"text":{"field":"t"}}},
{"data":{"values":[{"t":"N. incompta"}]},"mark":{"type":"text","fontSize":13.5,"fontStyle":"italic","align":"left","baseline":"alphabetic","color":"#b41ed2"},
 "encoding":{"x":{"datum":140.4,"scale":{"type":"linear","domain":[100,150,225,250,300,355,375,450],"range":[0,138.5,188,257.3,306,458.4,512,720],"nice":false,"zero":false},"axis":null},
  "y":{"datum":4.2,"scale":{"domain":[0,50],"range":[424,329],"nice":false,"zero":false},"axis":null},"text":{"field":"t"}}},
{"data":{"values":[{"t":"N. pachyderma"}]},"mark":{"type":"text","fontSize":16,"fontWeight":"bold","fontStyle":"italic","angle":90,"align":"left","baseline":"alphabetic","color":"#1c1cd4"},
 "encoding":{"x":{"datum":466.6,"scale":{"type":"linear","domain":[100,150,225,250,300,355,375,450],"range":[0,138.5,188,257.3,306,458.4,512,720],"nice":false,"zero":false},"axis":null},
  "y":{"datum":-18.6,"scale":{"domain":[0,100],"range":[0,193.5],"nice":false,"zero":false},"axis":null},"text":{"field":"t"}}},
{"data":{"values":[{"t":"(s) coiling ratio (%)"}]},"mark":{"type":"text","fontSize":16,"fontWeight":"bold","angle":90,"align":"left","baseline":"alphabetic","color":"#1c1cd4"},
 "encoding":{"x":{"datum":466.6,"scale":{"type":"linear","domain":[100,150,225,250,300,355,375,450],"range":[0,138.5,188,257.3,306,458.4,512,720],"nice":false,"zero":false},"axis":null},
  "y":{"datum":42.9,"scale":{"domain":[0,100],"range":[0,193.5],"nice":false,"zero":false},"axis":null},"text":{"field":"t"}}}
]
}
